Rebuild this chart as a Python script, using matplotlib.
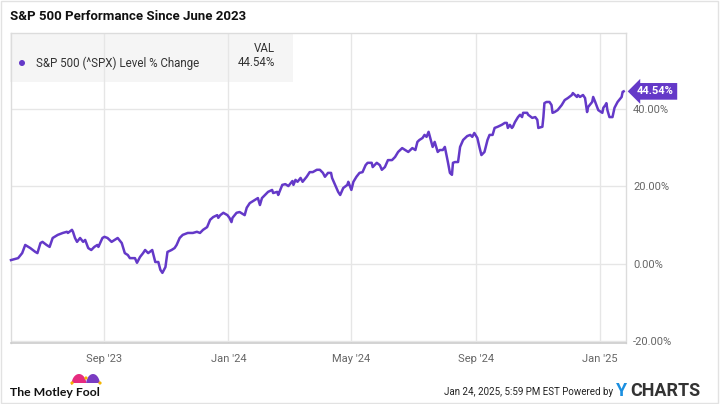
import matplotlib
matplotlib.use("Agg")
import matplotlib.pyplot as plt
import matplotlib.transforms as mtransforms
from matplotlib.patches import Rectangle, Circle, Polygon
import numpy as np
import pandas as pd

# ---------------- data ----------------
dates = [
    "2023-06-01", "2023-06-08", "2023-06-12", "2023-06-15", "2023-06-20", "2023-06-25", "2023-06-27", "2023-06-30",
    "2023-07-02", "2023-07-06", "2023-07-09", "2023-07-12", "2023-07-17", "2023-07-22", "2023-07-26", "2023-07-27",
    "2023-07-31", "2023-08-01", "2023-08-03", "2023-08-05", "2023-08-08", "2023-08-11", "2023-08-13", "2023-08-16",
    "2023-08-19", "2023-08-22", "2023-08-25", "2023-08-26", "2023-08-30", "2023-09-01", "2023-09-04", "2023-09-08",
    "2023-09-11", "2023-09-14", "2023-09-18", "2023-09-21", "2023-09-24", "2023-09-26", "2023-10-01", "2023-10-03",
    "2023-10-06", "2023-10-09", "2023-10-11", "2023-10-14", "2023-10-18", "2023-10-21", "2023-10-24", "2023-10-26",
    "2023-10-28", "2023-10-31", "2023-11-02", "2023-11-06", "2023-11-09", "2023-11-11", "2023-11-14", "2023-11-17",
    "2023-11-22", "2023-11-27", "2023-12-01", "2023-12-04", "2023-12-07", "2023-12-11", "2023-12-14", "2023-12-17",
    "2023-12-21", "2023-12-22", "2023-12-24", "2023-12-27", "2023-12-31", "2024-01-02", "2024-01-04", "2024-01-05",
    "2024-01-09", "2024-01-12", "2024-01-17", "2024-01-19", "2024-01-22", "2024-01-27", "2024-01-30", "2024-02-01",
    "2024-02-03", "2024-02-06", "2024-02-09", "2024-02-13", "2024-02-14", "2024-02-18", "2024-02-19", "2024-02-23",
    "2024-02-26", "2024-02-29", "2024-03-04", "2024-03-05", "2024-03-07", "2024-03-09", "2024-03-12", "2024-03-14",
    "2024-03-18", "2024-03-21", "2024-03-24", "2024-03-28", "2024-03-31", "2024-04-03", "2024-04-05", "2024-04-08",
    "2024-04-11", "2024-04-12", "2024-04-15", "2024-04-18", "2024-04-20", "2024-04-23", "2024-04-27", "2024-04-28",
    "2024-05-01", "2024-05-03", "2024-05-06", "2024-05-09", "2024-05-12", "2024-05-15", "2024-05-17", "2024-05-21",
    "2024-05-22", "2024-05-26", "2024-05-29", "2024-05-31", "2024-06-03", "2024-06-06", "2024-06-10", "2024-06-13",
    "2024-06-16", "2024-06-20", "2024-06-23", "2024-06-26", "2024-06-30", "2024-07-03", "2024-07-05", "2024-07-07",
    "2024-07-10", "2024-07-12", "2024-07-14", "2024-07-16", "2024-07-19", "2024-07-20", "2024-07-22", "2024-07-25",
    "2024-07-27", "2024-07-30", "2024-08-01", "2024-08-03", "2024-08-04", "2024-08-06", "2024-08-08", "2024-08-09",
    "2024-08-11", "2024-08-14", "2024-08-16", "2024-08-19", "2024-08-23", "2024-08-26", "2024-08-28", "2024-08-30",
    "2024-09-02", "2024-09-04", "2024-09-06", "2024-09-09", "2024-09-12", "2024-09-14", "2024-09-17", "2024-09-19",
    "2024-09-22", "2024-09-26", "2024-09-29", "2024-10-01", "2024-10-02", "2024-10-04", "2024-10-06", "2024-10-07",
    "2024-10-09", "2024-10-12", "2024-10-14", "2024-10-16", "2024-10-17", "2024-10-21", "2024-10-22", "2024-10-26",
    "2024-10-29", "2024-10-31", "2024-11-01", "2024-11-05", "2024-11-06", "2024-11-07", "2024-11-09", "2024-11-12",
    "2024-11-14", "2024-11-15", "2024-11-17", "2024-11-20", "2024-11-24", "2024-11-27", "2024-11-30", "2024-12-04",
    "2024-12-05", "2024-12-07", "2024-12-09", "2024-12-10", "2024-12-12", "2024-12-15", "2024-12-17", "2024-12-19",
    "2024-12-20", "2024-12-24", "2024-12-25", "2024-12-27", "2024-12-30", "2025-01-03", "2025-01-04", "2025-01-06",
    "2025-01-07", "2025-01-08", "2025-01-10", "2025-01-13", "2025-01-15", "2025-01-18", "2025-01-22", "2025-01-23",
    "2025-01-24",
]
pct_change = [
    1.0, 1.5, 2.8, 4.9, 4.1, 3.1, 2.8, 5.4,
    5.7, 4.9, 4.4, 6.7, 7.5, 8.0, 8.3, 8.0,
    8.8, 8.3, 6.7, 5.7, 6.7, 5.7, 6.2, 4.1,
    3.6, 4.4, 4.9, 4.4, 6.7, 7.0, 6.7, 5.7,
    6.2, 6.7, 5.4, 2.8, 2.3, 1.5, 1.5, 0.3,
    1.8, 2.8, 3.6, 2.8, 3.6, 0.5, 0.5, -1.5,
    -2.3, -0.8, 3.1, 3.6, 4.1, 4.9, 6.7, 7.5,
    8.0, 8.0, 8.3, 8.0, 8.8, 9.5, 11.4, 12.1,
    12.6, 11.9, 12.6, 13.2, 12.6, 11.9, 10.8, 11.9,
    13.2, 13.4, 12.6, 14.5, 15.7, 16.5, 17.0, 15.2,
    17.0, 17.8, 18.6, 19.1, 18.3, 18.6, 17.8, 20.4,
    20.6, 20.1, 21.4, 20.4, 21.7, 21.2, 22.2, 21.2,
    22.5, 23.7, 23.7, 24.3, 24.3, 23.5, 22.5, 23.5,
    23.5, 22.2, 20.4, 18.6, 17.8, 19.6, 20.4, 21.2,
    19.1, 21.2, 22.5, 23.5, 23.7, 25.5, 26.1, 26.1,
    25.0, 26.1, 25.5, 24.3, 25.0, 26.8, 26.8, 27.6,
    28.9, 29.9, 29.4, 28.9, 29.9, 29.4, 31.5, 32.0,
    32.5, 33.3, 32.8, 34.1, 31.2, 30.2, 31.5, 28.9,
    29.4, 29.4, 30.2, 27.6, 26.3, 23.5, 23.0, 26.1,
    26.3, 26.3, 30.2, 32.0, 33.0, 33.3, 32.8, 33.8,
    32.5, 30.2, 28.1, 28.9, 32.0, 33.3, 33.3, 35.1,
    35.4, 35.9, 36.4, 36.4, 35.1, 35.9, 35.1, 35.4,
    36.6, 37.9, 38.5, 37.9, 39.0, 39.0, 38.5, 37.7,
    37.9, 37.2, 35.1, 35.4, 37.9, 41.5, 41.8, 41.8,
    41.0, 39.0, 39.2, 39.7, 41.0, 42.3, 42.8, 43.6,
    44.1, 43.6, 43.1, 43.6, 43.1, 43.6, 42.8, 39.2,
    40.5, 41.8, 43.1, 41.8, 39.7, 39.0, 40.3, 41.0,
    41.5, 39.7, 37.9, 37.9, 40.3, 41.8, 43.1, 44.4,
    44.54,
]
series_name = "S&P 500 (^SPX) Level % Change"
last_value_label = "44.54%"
title = "S&P 500 Performance Since June 2023"
y_ticks = [-20, 0, 20, 40]
x_tick_dates = ["2023-09-01", "2024-01-01", "2024-05-01", "2024-09-01", "2025-01-01"]
x_tick_labels = ["Sep '23", "Jan '24", "May '24", "Sep '24", "Jan '25"]
footer_left = "The Motley Fool"
footer_right = "Jan 24, 2025, 5:59 PM EST Powered by"

# ---------------- style ----------------
W, H = 720, 404
PURPLE = "#6439c8"
GRID = "#e6e6e6"
TICK = "#666666"
plt.rcParams["font.family"] = ["Roboto", "DejaVu Sans"]

fig = plt.figure(figsize=(W / 100, H / 100), dpi=100)
fig.patch.set_facecolor("white")

def fx(px):
    return px / W

def fy(py):
    return 1 - py / H

# bottom overlay in pixel coordinates (for the legend background)
under = fig.add_axes([0, 0, 1, 1], zorder=0)
under.set_xlim(0, W); under.set_ylim(H, 0); under.axis("off")
under.add_patch(Rectangle((10, 33), 283, 49, facecolor="#f5f5f5", edgecolor="none"))

L, R, T, B = 11, 626, 33, 343
ax = fig.add_axes([fx(L), fy(B), fx(R) - fx(L), fy(T) - fy(B)], zorder=1)
ax.set_facecolor("none")

x = pd.to_datetime(dates)
ax.plot(x, pct_change, color=PURPLE, lw=1.8, solid_joinstyle="round", zorder=3, clip_on=False)

start = pd.Timestamp("2023-06-01")
ax.set_xlim(start, start + pd.Timedelta(days=605.3))
ax.set_ylim(-20.4, 59.6)

ax.set_xticks(pd.to_datetime(x_tick_dates))
ax.set_xticklabels(x_tick_labels)
ax.set_yticks(y_ticks)
ax.set_yticklabels([f"{v:.2f}%" for v in y_ticks])
ax.yaxis.tick_right()
ax.tick_params(axis="both", length=0, colors=TICK, labelsize=8)
ax.tick_params(axis="x", pad=8)
ax.tick_params(axis="y", pad=5)
ax.grid(True, color=GRID, lw=1)
ax.set_axisbelow(True)
for s in ["top", "left", "right"]:
    ax.spines[s].set_color("#dcdcdc")
    ax.spines[s].set_linewidth(1)
ax.spines["bottom"].set_color("#cccccc")
ax.spines["bottom"].set_linewidth(1.2)

# end-value badge
blend = mtransforms.blended_transform_factory(ax.transAxes, ax.transData)
ax.text((637 - L) / (R - L), pct_change[-1], last_value_label, transform=blend,
        fontsize=8, fontweight="bold", color="white", ha="left", va="center",
        bbox=dict(boxstyle="larrow,pad=0.3", fc=PURPLE, ec="none"), zorder=6, clip_on=False)

# top overlay in pixel coordinates
top = fig.add_axes([0, 0, 1, 1], zorder=2)
top.set_xlim(0, W); top.set_ylim(H, 0); top.axis("off")
top.patch.set_alpha(0)

top.add_patch(Circle((22, 63), 3.0, facecolor=PURPLE, edgecolor="none"))
top.text(36, 63, series_name, fontsize=8.3, color="#333333", ha="left", va="center")
top.text(275, 49, "VAL", fontsize=8.3, color="#333333", ha="right", va="center")
top.text(275, 63, last_value_label, fontsize=8.3, color="#333333", ha="right", va="center")

top.text(10, 17, title, fontsize=9.5, fontweight="bold", color="#111111", ha="left", va="center")

# footer left: Motley Fool wordmark with jester hat
top.text(10, 392, footer_left, fontsize=8.8, fontweight="bold", color="#111111",
         ha="left", va="center", family=["Lato", "DejaVu Sans"])

def dome(cx, cy, rx, ry, color):
    t = np.linspace(0, np.pi, 40)
    pts = np.column_stack([cx + rx * np.cos(t), cy - ry * np.sin(t)])
    top.add_patch(Polygon(pts, closed=True, facecolor=color, edgecolor="none"))

dome(79, 385, 7.5, 11, "#e62b7f")
dome(93, 385, 7.0, 11, "#7a3cc2")
top.add_patch(Rectangle((71.5, 383), 29, 2.5, facecolor="white", edgecolor="none"))
for cx, cy in [(72, 383), (86, 378), (100, 383)]:
    top.add_patch(Circle((cx, cy), 1.6, facecolor="#f4b400", edgecolor="none"))

# footer right
top.text(613, 392, footer_right, fontsize=7.0, color="#222222", ha="right", va="center")
top.text(616, 391, "Y", fontsize=13, fontweight="bold", color="#1b8fe0", ha="left", va="center")
top.text(630, 391, "CHARTS", fontsize=13, fontweight="bold", color="#333333", ha="left", va="center")

# outer frame
top.add_patch(Rectangle((0.5, 0.5), 717.5, 402, facecolor="none", edgecolor="#e2e2e2", lw=1))

fig.savefig("out.png", dpi=100, facecolor="white")
